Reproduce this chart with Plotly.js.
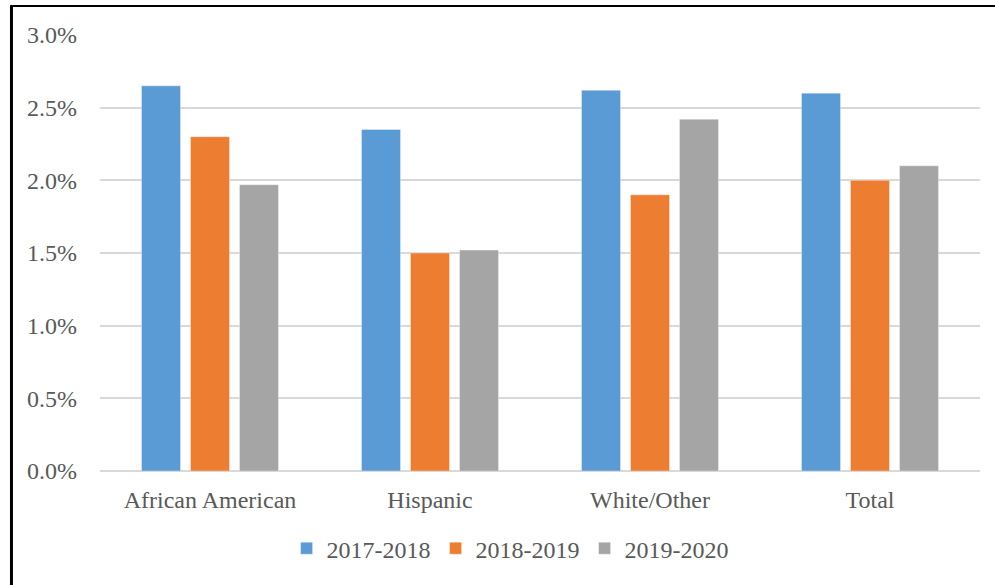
<!DOCTYPE html>
<html>
<head>
<meta charset="utf-8">
<script src="https://cdn.plot.ly/plotly-3.0.1.min.js"></script>
<style>html,body{margin:0;padding:0;background:#fff;}#chart{width:995px;height:585px;}</style>
</head>
<body>
<div id="chart"></div>
<script>
const categories = ["African American", "Hispanic", "White/Other", "Total"];
const seriesNames = ["2017-2018", "2018-2019", "2019-2020"];
const values2017 = [0.0265, 0.0235, 0.0262, 0.0260];
const values2018 = [0.0230, 0.0150, 0.0190, 0.0200];
const values2019 = [0.0197, 0.0152, 0.0242, 0.0210];
const colors = ["#5B9BD5", "#ED7D31", "#A5A5A5"];
const yTickVals = [0, 0.005, 0.01, 0.015, 0.02, 0.025, 0.03];

const allValues = [values2017, values2018, values2019];
const traces = allValues.map((vals, i) => ({
  type: "bar",
  name: seriesNames[i],
  x: categories,
  y: vals,
  marker: {color: colors[i], line: {color: "rgba(255,255,255,0.35)", width: 1}},
  hoverinfo: "x+y+name"
}));

const font = "'Liberation Serif', 'Times New Roman', serif";
const layout = {
  width: 995,
  height: 585,
  margin: {l: 100, r: 15, t: 35, b: 114},
  paper_bgcolor: "#ffffff",
  plot_bgcolor: "#ffffff",
  barmode: "group",
  bargap: 0.332,
  bargroupgap: 0.204,
  font: {family: font, color: "#595959", size: 24},
  showlegend: true,
  legend: {
    orientation: "h",
    x: 0.466, xanchor: "center",
    y: -0.178, yanchor: "middle",
    font: {family: font, size: 24, color: "#595959"},
    traceorder: "normal"
  },
  xaxis: {
    type: "category",
    showgrid: false,
    showline: false,
    ticks: "",
    ticklabelstandoff: 12,
    tickfont: {family: font, size: 24, color: "#595959"},
    fixedrange: true
  },
  yaxis: {
    range: [0, 0.03],
    tickvals: yTickVals,
    tickformat: ".1%",
    showgrid: true,
    gridcolor: "#D9D9D9",
    gridwidth: 2,
    zeroline: true,
    zerolinecolor: "#D9D9D9",
    zerolinewidth: 2.5,
    showline: false,
    ticks: "",
    ticklabelstandoff: 22,
    tickfont: {family: font, size: 24, color: "#595959"},
    fixedrange: true
  },
  shapes: [
    {type: "line", xref: "paper", yref: "paper", x0: -0.1006, x1: -0.1006, y0: 1.068, y1: -0.27, line: {color: "#000000", width: 3}},
    {type: "line", xref: "paper", yref: "paper", x0: -0.102, x1: 1.02, y0: 1.0665, y1: 1.0665, line: {color: "#000000", width: 2}}
  ]
};

Plotly.newPlot("chart", traces, layout, {displayModeBar: false, staticPlot: true});
</script>
</body>
</html>
